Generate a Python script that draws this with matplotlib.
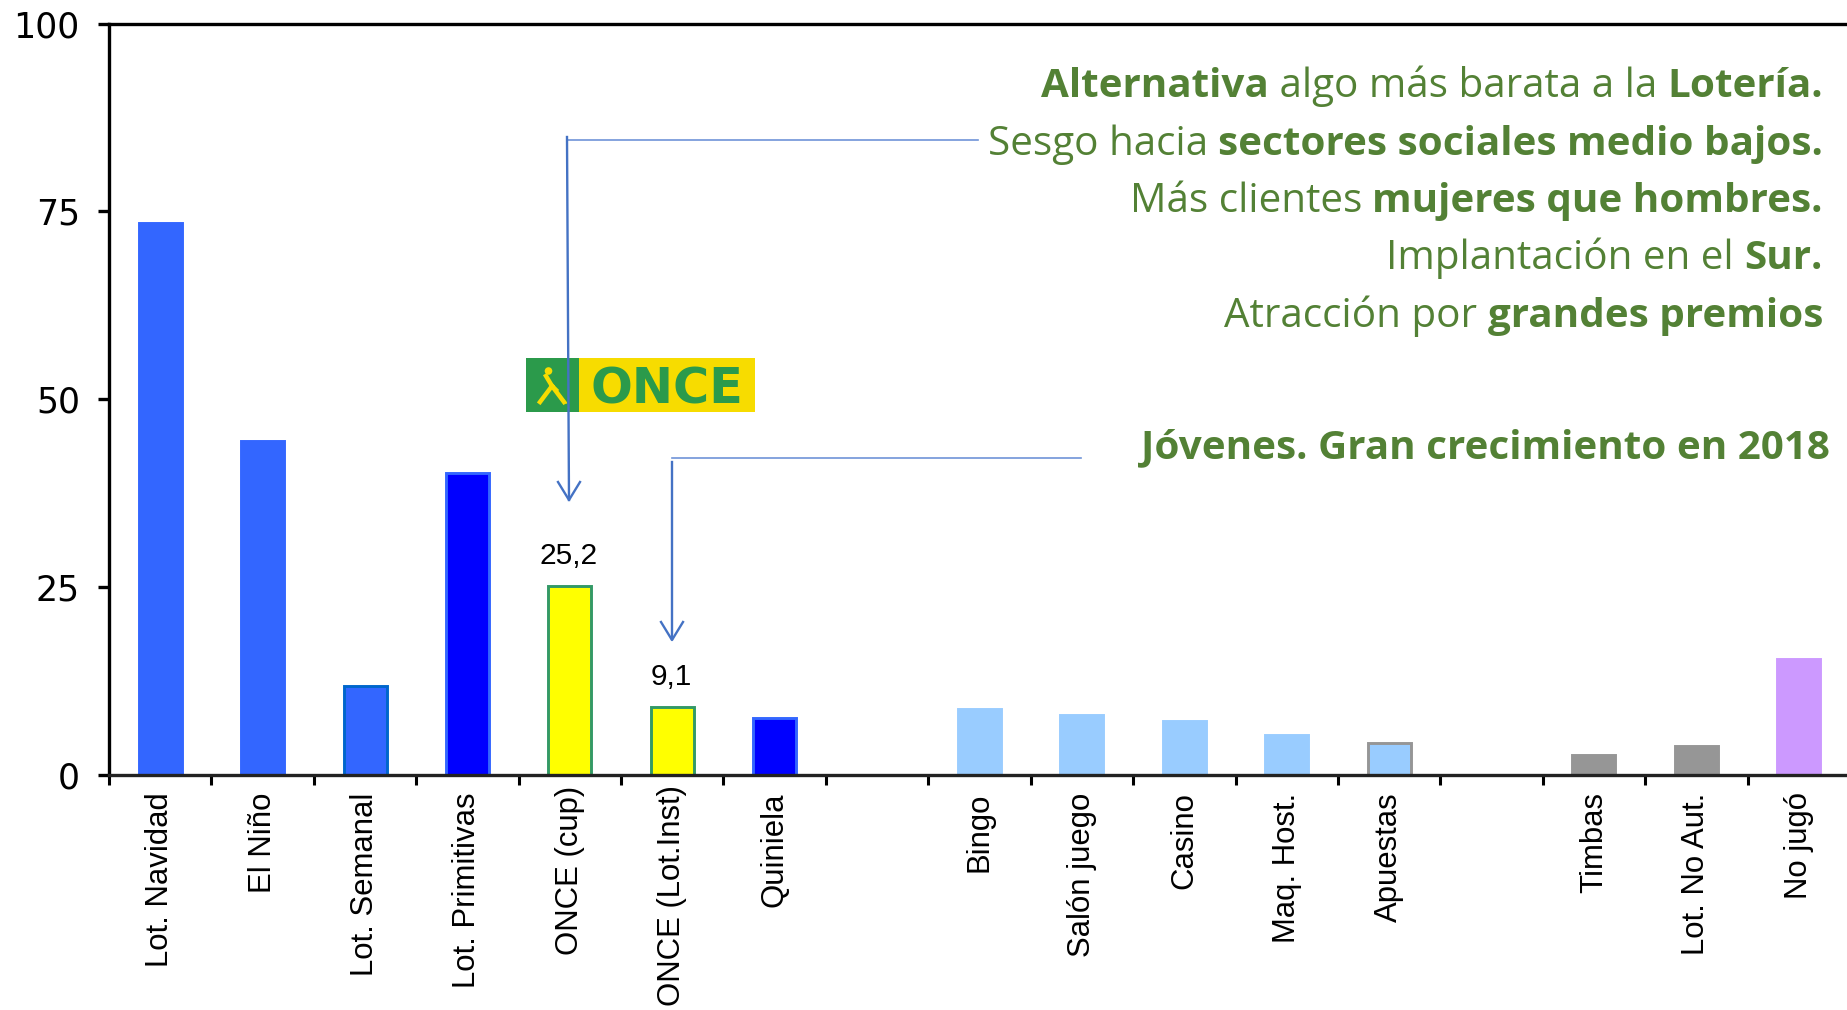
import matplotlib
matplotlib.use("Agg")
import matplotlib.pyplot as plt
from matplotlib.lines import Line2D
from matplotlib.patches import Rectangle, Circle
from matplotlib.transforms import Affine2D

W, H = 1847, 1010
LABEL_FONT = "Liberation Sans"
LABEL_SIZE = 22.4
TEXT_SIZE = 29.05
GREEN = "#538135"
ARROW = "#4472C4"

categories = ["Lot. Navidad", "El Niño", "Lot. Semanal", "Lot. Primitivas", "ONCE (cup)",
              "ONCE (Lot.Inst)", "Quiniela", "", "Bingo", "Salón juego", "Casino",
              "Maq. Host.", "Apuestas", "", "Timbas", "Lot. No Aut.", "No jugó"]
values = [73.5, 44.4, 11.9, 40.2, 25.2, 9.1, 7.6, 0, 8.8, 8.0, 7.2, 5.3, 4.2, 0, 2.7, 3.8, 15.4]
fills = ["#3366FF", "#3366FF", "#3366FF", "#0000FF", "#FFFF00", "#FFFF00", "#0000FF", "none",
         "#99CCFF", "#99CCFF", "#99CCFF", "#99CCFF", "#99CCFF", "none", "#969696", "#969696", "#CC99FF"]
edges = ["#3366FF", "#3366FF", "#0066CC", "#3366FF", "#339966", "#339966", "#3366FF", "none",
         "#99CCFF", "#99CCFF", "#99CCFF", "#99CCFF", "#969696", "none", "#969696", "#969696", "#CC99FF"]
value_labels = {4: "25,2", 5: "9,1"}
y_ticks = [0, 25, 50, 75, 100]

text_lines = [
    (84, 1823, [("Alternativa", True), (" algo más barata a la ", False), ("Lotería.", True)]),
    (142, 1823, [("Sesgo hacia ", False), ("sectores sociales medio bajos.", True)]),
    (199, 1823, [("Más clientes ", False), ("mujeres que hombres.", True)]),
    (256, 1823, [("Implantación en el ", False), ("Sur.", True)]),
    (314, 1823, [("Atracción por ", False), ("grandes premios", True)]),
    (445, 1830, [("Jóvenes. Gran crecimiento en 2018", True)]),
]

fig = plt.figure(figsize=(W / 100, H / 100), dpi=100, facecolor="white")
ax = fig.add_axes([109 / W, 1 - 775 / H, (1850 - 109) / W, (775 - 23.5) / H])
px = Affine2D().scale(1, -1).translate(0, H)  # pixel coordinates, origin top-left

x = [i + 0.5 for i in range(len(categories))]
ax.bar(x, values, width=0.42, color=fills, edgecolor=edges, linewidth=2.1, zorder=2)
ax.set_xlim(0, len(categories))
ax.set_ylim(0, 100)

for s in ("left", "top", "bottom"):
    ax.spines[s].set_linewidth(2.4)
ax.spines["right"].set_visible(False)
ax.spines["bottom"].set_color("#222222")

ax.set_yticks(y_ticks)
ax.set_yticklabels([str(v) for v in y_ticks], fontsize=25, fontfamily="DejaVu Sans")
ax.tick_params(axis="y", length=8, width=2.4, pad=13)

ax.set_xticks(range(len(categories)))
ax.set_xticklabels([])
ax.tick_params(axis="x", which="major", length=7.5, width=2.2)
ax.set_xticks(x, minor=True)
ax.set_xticklabels(categories, minor=True, rotation=90, fontsize=LABEL_SIZE,
                   fontfamily=[LABEL_FONT, "DejaVu Sans"], va="top", ha="center")
ax.tick_params(axis="x", which="minor", length=0, pad=12.5)
minor_ticks = ax.xaxis.get_minor_ticks()
minor_ticks[4].set_pad(8)
minor_ticks[5].set_pad(7)

for i, lab in value_labels.items():
    ax.annotate(lab, (x[i], values[i]), xytext=(-1, 15.5), textcoords="offset points",
                ha="center", va="baseline", fontsize=21.5, fontfamily="Liberation Sans")

# ONCE logo
fig.add_artist(Rectangle((526, 358), 53, 54, transform=px, fc="#2B9A4B", ec="none", zorder=3))
fig.add_artist(Rectangle((579, 358), 176, 54, transform=px, fc="#F7DC00", ec="none", zorder=3))
fig.text(667 / W, 1 - 385 / H, "ONCE", color="#2B9A4B", fontsize=35.5, fontweight="bold",
         fontfamily="DejaVu Sans", ha="center", va="center_baseline", zorder=4)
fig.add_artist(Circle((548.5, 371), 3.8, transform=px, fc="#F7DC00", ec="none", zorder=4))
for xs, ys, lw in [((546, 552, 556), (376, 386, 390), 3.2),
                   ((552, 540), (386, 402), 3.2),
                   ((552, 564), (386, 402), 3.2),
                   ((556, 566), (390, 403), 1.2)]:
    fig.add_artist(Line2D(xs, ys, transform=px, color="#F7DC00", lw=lw, zorder=4))

# Callout lines
def seg(xs, ys, color=ARROW, lw=1.7):
    fig.add_artist(Line2D(xs, ys, transform=px, color=color, lw=lw, zorder=5))

seg((567, 978), (140, 140), "#6F94D8", 1.2)
seg((567, 569), (137, 500))
seg((558, 569, 580), (482, 500, 482))
seg((672, 1081), (458, 458), "#6F94D8", 1.2)
seg((672, 672), (462, 639))
seg((661, 672, 683), (622, 640, 622))

# Commentary text, assembled from the right
fig.canvas.draw()
rend = fig.canvas.get_renderer()
for yc, right, parts in text_lines:
    xr = right
    for s, bold in reversed(parts):
        weight = "bold" if bold else "normal"
        t = fig.text(xr / W, 1 - (yc + 13) / H, s, color=GREEN, fontsize=TEXT_SIZE,
                     fontweight=weight, fontfamily="Open Sans",
                     ha="right", va="baseline", zorder=6)
        probe = fig.text(0, 0, "|" + s + "|", fontsize=TEXT_SIZE, fontweight=weight,
                         fontfamily="Open Sans")
        bar = fig.text(0, 0, "||", fontsize=TEXT_SIZE, fontweight=weight, fontfamily="Open Sans")
        adv = probe.get_window_extent(rend).width - bar.get_window_extent(rend).width
        probe.remove()
        bar.remove()
        if s.endswith(" "):
            t.set_text(s.rstrip(" "))
            tail = adv - t.get_window_extent(rend).width
            t.set_x((xr - tail) / W)
        xr -= adv

fig.savefig("out.png", dpi=100)
